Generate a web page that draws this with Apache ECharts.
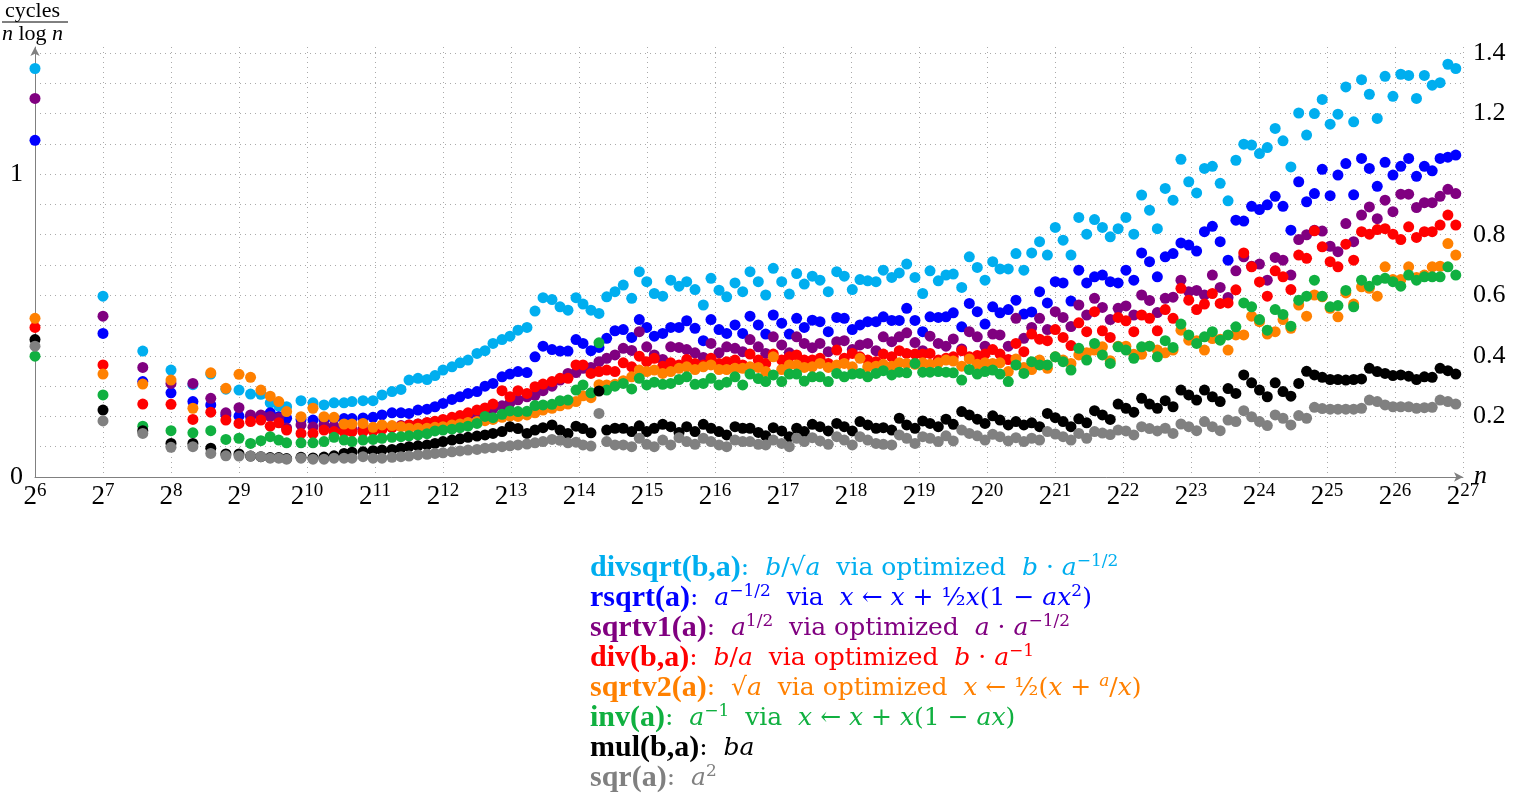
<!DOCTYPE html>
<html>
<head>
<meta charset="utf-8">
<script src="https://cdn.jsdelivr.net/npm/echarts@6/dist/echarts.min.js"></script>
<style>
  html, body { margin: 0; padding: 0; background: #fff; }
  #chart { width: 1534px; height: 799px; }
</style>
</head>
<body>
<div id="chart"></div>
<script>
// x positions: log2(n)
var logN = [6, 7, 7.585, 8, 8.322, 8.585, 8.807, 9, 9.17, 9.322, 9.459, 9.585, 9.7,
  9.912, 10.088, 10.25, 10.397, 10.544, 10.662, 10.824, 10.971, 11.103, 11.25, 11.382, 11.5, 11.632, 11.765, 11.882, 12.0, 12.132, 12.25, 12.368, 12.5, 12.618, 12.735, 12.868, 12.985, 13.103, 13.235, 13.353, 13.471, 13.603, 13.721, 13.838, 13.956, 14.059, 14.176, 14.294,
  14.407, 14.529, 14.651, 14.775, 14.887, 14.996, 15.107, 15.231, 15.349, 15.471, 15.584, 15.706, 15.828, 15.941, 16.059, 16.172, 16.294, 16.407, 16.515, 16.637, 16.746, 16.857, 16.981, 17.093, 17.201, 17.313, 17.431, 17.544, 17.666, 17.79, 17.901, 18.019, 18.132, 18.246, 18.368, 18.475, 18.599, 18.71, 18.819, 18.941, 19.054, 19.162, 19.284, 19.397, 19.504, 19.628, 19.74, 19.857, 19.971, 20.084, 20.191, 20.313, 20.426,
  20.542, 20.657, 20.773, 20.888, 21.004, 21.119, 21.235, 21.35, 21.466, 21.581, 21.697, 21.812, 21.928, 22.043, 22.159, 22.274, 22.39, 22.505, 22.621, 22.736, 22.852, 22.967, 23.083, 23.198, 23.314, 23.429, 23.545, 23.66, 23.776, 23.891, 24.007, 24.122, 24.238, 24.353, 24.469, 24.584,
  24.7, 24.815, 24.93, 25.046, 25.161, 25.277, 25.392, 25.508, 25.623, 25.739, 25.854, 25.97, 26.085, 26.201, 26.316, 26.432, 26.547, 26.663, 26.778, 26.894];

var divsqrtVals = [1.349, 0.597, 0.416, 0.353, 0.305, 0.340, 0.290, 0.287, 0.274, 0.273, 0.245, 0.234, 0.232,
  0.252, 0.245, 0.238, 0.245, 0.245, 0.249, 0.252, 0.252, 0.271, 0.282, 0.289, 0.320, 0.326, 0.322, 0.335, 0.353, 0.364, 0.377, 0.386, 0.408, 0.417, 0.441, 0.454, 0.465, 0.485, 0.494, 0.548, 0.592, 0.586, 0.562, 0.551, 0.592, 0.571, 0.551, 0.540,
  0.595, 0.612, 0.634, 0.590, 0.678, 0.645, 0.606, 0.597, 0.650, 0.630, 0.645, 0.619, 0.568, 0.656, 0.617, 0.595,
  0.641, 0.612, 0.678, 0.645, 0.601, 0.689, 0.645, 0.604, 0.672, 0.637, 0.663, 0.650, 0.612, 0.678, 0.663, 0.619, 0.652, 0.648,
  0.645, 0.683, 0.659, 0.674, 0.703, 0.659, 0.606, 0.681, 0.648, 0.667, 0.670, 0.626, 0.727, 0.692, 0.650, 0.711, 0.687, 0.687, 0.738,
  0.683, 0.740, 0.777, 0.733, 0.824, 0.782, 0.733, 0.857, 0.802, 0.850, 0.824, 0.793, 0.820, 0.857, 0.802, 0.931, 0.881, 0.820, 0.953,
  0.914, 1.049, 0.975, 0.938, 1.019, 1.026, 0.970, 0.912, 1.046, 1.099, 1.096, 1.068, 1.088, 1.151, 1.110, 1.024, 1.202, 1.129,
  1.200, 1.247, 1.165, 1.198, 1.288, 1.173, 1.312, 1.264, 1.184, 1.323, 1.257, 1.330, 1.326, 1.250, 1.326, 1.294, 1.302, 1.363, 1.349];

var rsqrtVals = [1.112, 0.474, 0.315, 0.278, 0.249, 0.238, 0.205, 0.201, 0.199, 0.199, 0.212, 0.199, 0.194,
  0.190, 0.188, 0.190, 0.193, 0.193, 0.193, 0.195, 0.197, 0.205, 0.212, 0.212, 0.210, 0.221, 0.224, 0.232, 0.243, 0.256, 0.265, 0.276, 0.282, 0.300, 0.309, 0.331, 0.340, 0.348, 0.345, 0.397, 0.432, 0.421, 0.416, 0.416, 0.454, 0.441, 0.417, 0.428,
  0.458, 0.483, 0.487, 0.461, 0.520, 0.494, 0.465, 0.474, 0.494, 0.494, 0.516, 0.491, 0.450, 0.520, 0.487, 0.474,
  0.502, 0.474, 0.531, 0.502, 0.472, 0.535, 0.508, 0.472, 0.524, 0.494, 0.518, 0.513, 0.480, 0.527, 0.524, 0.487, 0.502, 0.513,
  0.513, 0.529, 0.517, 0.517, 0.557, 0.517, 0.480, 0.529, 0.527, 0.529, 0.542, 0.496, 0.573, 0.546, 0.505, 0.562, 0.542, 0.553, 0.584,
  0.538, 0.545, 0.612, 0.575, 0.645, 0.641, 0.581, 0.683, 0.641, 0.661, 0.667, 0.645, 0.641, 0.683, 0.650, 0.740, 0.711, 0.661, 0.727,
  0.738, 0.773, 0.766, 0.746, 0.810, 0.828, 0.777, 0.716, 0.848, 0.845, 0.894, 0.883, 0.899, 0.927, 0.894, 0.815, 0.975, 0.909,
  0.936, 1.016, 0.929, 0.997, 1.035, 0.932, 1.052, 1.019, 0.960, 1.039, 0.997, 1.026, 1.052, 0.993, 1.026, 1.011, 1.052, 1.056, 1.063];

var sqrtv1Vals = [1.250, 0.531, 0.362, 0.309, 0.309, 0.260, 0.212, 0.229, 0.205, 0.205, 0.200, 0.195, 0.162,
  0.172, 0.165, 0.172, 0.168, 0.160, 0.158, 0.158, 0.160, 0.163, 0.166, 0.170, 0.172, 0.175, 0.178, 0.182, 0.187, 0.192, 0.197, 0.203, 0.210, 0.218, 0.226, 0.235, 0.245, 0.255, 0.265, 0.270, 0.285, 0.300, 0.320, 0.342, 0.345, 0.359, 0.362, 0.381,
  0.392, 0.403, 0.425, 0.418, 0.480, 0.430, 0.403, 0.388, 0.430, 0.428, 0.421, 0.410, 0.395, 0.441, 0.410, 0.430,
  0.425, 0.414, 0.454, 0.430, 0.408, 0.463, 0.436, 0.410, 0.463, 0.441, 0.427, 0.441, 0.414, 0.447, 0.450, 0.421, 0.436, 0.441,
  0.417, 0.463, 0.447, 0.463, 0.476, 0.444, 0.417, 0.465, 0.441, 0.432, 0.456, 0.423, 0.480, 0.463, 0.432, 0.472, 0.469, 0.432, 0.524,
  0.458, 0.494, 0.524, 0.487, 0.546, 0.527, 0.497, 0.568, 0.535, 0.590, 0.560, 0.520, 0.557, 0.565, 0.535, 0.601, 0.583, 0.543, 0.590,
  0.594, 0.650, 0.612, 0.616, 0.601, 0.667, 0.626, 0.593, 0.681, 0.727, 0.696, 0.703, 0.650, 0.725, 0.716, 0.667, 0.784, 0.800,
  0.815, 0.812, 0.762, 0.744, 0.837, 0.777, 0.865, 0.892, 0.853, 0.914, 0.876, 0.934, 0.934, 0.890, 0.906, 0.906, 0.927, 0.950, 0.936];

var divVals = [0.494, 0.370, 0.241, 0.240, 0.190, 0.214, 0.188, 0.177, 0.183, 0.188, 0.168, 0.179, 0.155,
  0.144, 0.144, 0.155, 0.150, 0.150, 0.150, 0.150, 0.152, 0.157, 0.163, 0.168, 0.172, 0.175, 0.180, 0.184, 0.190, 0.197, 0.203, 0.212, 0.221, 0.228, 0.241, 0.285, 0.265, 0.285, 0.276, 0.298, 0.307, 0.315, 0.326, 0.326, 0.370, 0.370, 0.342, 0.348,
  0.353, 0.348, 0.377, 0.364, 0.399, 0.381, 0.392, 0.366, 0.377, 0.370, 0.388, 0.375, 0.370, 0.392, 0.375, 0.381,
  0.386, 0.370, 0.406, 0.386, 0.375, 0.406, 0.386, 0.397, 0.403, 0.386, 0.386, 0.392, 0.375, 0.419, 0.392, 0.408, 0.397, 0.386,
  0.381, 0.406, 0.397, 0.417, 0.408, 0.406, 0.406, 0.408, 0.386, 0.392, 0.397, 0.417, 0.397, 0.401, 0.406, 0.421, 0.406, 0.388, 0.441,
  0.414, 0.472, 0.455, 0.450, 0.487, 0.461, 0.434, 0.509, 0.480, 0.546, 0.483, 0.461, 0.527, 0.516, 0.480, 0.535, 0.524, 0.483, 0.553,
  0.524, 0.623, 0.584, 0.553, 0.571, 0.606, 0.573, 0.575, 0.618, 0.740, 0.694, 0.644, 0.597, 0.681, 0.661, 0.619, 0.733, 0.722,
  0.813, 0.760, 0.711, 0.694, 0.769, 0.716, 0.810, 0.802, 0.817, 0.820, 0.802, 0.784, 0.826, 0.791, 0.810, 0.810, 0.832, 0.865, 0.832];

var sqrtv2Vals = [0.524, 0.340, 0.307, 0.320, 0.227, 0.344, 0.293, 0.339, 0.329, 0.287, 0.267, 0.249, 0.216,
  0.199, 0.227, 0.199, 0.197, 0.175, 0.175, 0.177, 0.164, 0.172, 0.170, 0.166, 0.161, 0.161, 0.161, 0.164, 0.166, 0.172, 0.175, 0.180, 0.183, 0.186, 0.190, 0.197, 0.201, 0.200, 0.205, 0.212, 0.221, 0.227, 0.235, 0.241, 0.249, 0.268, 0.262, 0.305,
  0.304, 0.306, 0.318, 0.331, 0.353, 0.348, 0.353, 0.342, 0.348, 0.359, 0.364, 0.355, 0.364, 0.370, 0.355, 0.355,
  0.359, 0.359, 0.364, 0.362, 0.348, 0.397, 0.355, 0.370, 0.370, 0.362, 0.364, 0.375, 0.362, 0.370, 0.375, 0.364, 0.392, 0.364,
  0.366, 0.372, 0.366, 0.377, 0.375, 0.372, 0.377, 0.372, 0.377, 0.386, 0.383, 0.366, 0.390, 0.372, 0.377, 0.375, 0.377, 0.348, 0.390,
  0.362, 0.355, 0.386, 0.359, 0.397, 0.386, 0.375, 0.403, 0.410, 0.419, 0.430, 0.384, 0.432, 0.432, 0.405, 0.405, 0.432, 0.419, 0.410,
  0.419, 0.485, 0.452, 0.450, 0.419, 0.457, 0.455, 0.419, 0.469, 0.469, 0.531, 0.513, 0.472, 0.480, 0.520, 0.491, 0.568, 0.531,
  0.601, 0.595, 0.557, 0.529, 0.608, 0.571, 0.628, 0.623, 0.597, 0.694, 0.652, 0.652, 0.694, 0.659, 0.667, 0.694, 0.696, 0.771, 0.733];

var invVals = [0.399, 0.271, 0.168, 0.153, 0.146, 0.153, 0.124, 0.128, 0.111, 0.120, 0.133, 0.122, 0.113,
  0.113, 0.113, 0.117, 0.131, 0.122, 0.117, 0.122, 0.124, 0.128, 0.131, 0.133, 0.136, 0.139, 0.143, 0.152, 0.155, 0.158, 0.163, 0.168, 0.177, 0.200, 0.196, 0.207, 0.218, 0.216, 0.217, 0.236, 0.238, 0.240, 0.252, 0.254, 0.287, 0.304, 0.278, 0.443,
  0.287, 0.300, 0.309, 0.291, 0.326, 0.304, 0.313, 0.306, 0.309, 0.322, 0.331, 0.306, 0.309, 0.326, 0.304, 0.313,
  0.331, 0.304, 0.340, 0.325, 0.315, 0.337, 0.315, 0.340, 0.340, 0.317, 0.331, 0.331, 0.315, 0.342, 0.331, 0.340, 0.342, 0.331,
  0.342, 0.351, 0.337, 0.346, 0.344, 0.375, 0.346, 0.346, 0.348, 0.346, 0.344, 0.320, 0.355, 0.340, 0.348, 0.353, 0.340, 0.315, 0.370,
  0.342, 0.381, 0.370, 0.370, 0.397, 0.381, 0.353, 0.425, 0.386, 0.441, 0.403, 0.375, 0.430, 0.419, 0.392, 0.430, 0.432, 0.397, 0.450,
  0.428, 0.505, 0.469, 0.441, 0.463, 0.480, 0.452, 0.469, 0.496, 0.575, 0.562, 0.520, 0.485, 0.553, 0.537, 0.498, 0.584, 0.597,
  0.650, 0.597, 0.562, 0.566, 0.616, 0.562, 0.650, 0.630, 0.650, 0.656, 0.645, 0.630, 0.667, 0.650, 0.661, 0.661, 0.661, 0.694, 0.667];

var mulVals = [0.454, 0.221, 0.153, 0.111, 0.111, 0.095, 0.076, 0.076, 0.069, 0.067, 0.064, 0.064, 0.061,
  0.065, 0.063, 0.066, 0.070, 0.078, 0.082, 0.083, 0.087, 0.089, 0.091, 0.095, 0.100, 0.103, 0.106, 0.111, 0.117, 0.122, 0.126, 0.131, 0.135, 0.139, 0.144, 0.150, 0.166, 0.160, 0.144, 0.155, 0.163, 0.172, 0.155, 0.144, 0.168, 0.160, 0.146, 0.284,
  0.155, 0.161, 0.161, 0.150, 0.169, 0.150, 0.161, 0.174, 0.166, 0.147, 0.166, 0.150, 0.174, 0.161, 0.150, 0.139, 0.166, 0.161, 0.161, 0.147, 0.136, 0.163, 0.152, 0.133, 0.161, 0.150, 0.174, 0.166, 0.152, 0.177, 0.166, 0.152, 0.183, 0.172, 0.161, 0.163, 0.155, 0.194, 0.172, 0.161, 0.185, 0.177, 0.166, 0.191, 0.174, 0.216, 0.205, 0.191, 0.177, 0.202, 0.188, 0.172, 0.183,
  0.172, 0.179, 0.166, 0.210, 0.196, 0.183, 0.166, 0.192, 0.179, 0.219, 0.205, 0.190, 0.241, 0.227, 0.214, 0.260, 0.241, 0.227, 0.252,
  0.232, 0.287, 0.271, 0.254, 0.287, 0.265, 0.249, 0.292, 0.276, 0.337, 0.311, 0.287, 0.265, 0.311, 0.282, 0.267, 0.309,
  0.349, 0.337, 0.329, 0.322, 0.322, 0.320, 0.322, 0.324, 0.359, 0.348, 0.342, 0.335, 0.337, 0.333, 0.322, 0.331, 0.329, 0.359, 0.351, 0.340];

var sqrVals = [0.432, 0.185, 0.144, 0.098, 0.100, 0.078, 0.070, 0.069, 0.069, 0.067, 0.062, 0.062, 0.059,
  0.062, 0.059, 0.059, 0.062, 0.062, 0.062, 0.067, 0.062, 0.062, 0.065, 0.067, 0.069, 0.073, 0.075, 0.078, 0.080, 0.083, 0.086, 0.089, 0.091, 0.095, 0.097, 0.100, 0.103, 0.106, 0.109, 0.113, 0.117, 0.124, 0.121, 0.113, 0.115, 0.106, 0.102, 0.210,
  0.117, 0.106, 0.106, 0.100, 0.128, 0.108, 0.100, 0.122, 0.106, 0.130, 0.117, 0.108, 0.128, 0.117, 0.106, 0.100, 0.122, 0.117, 0.117, 0.108, 0.106, 0.122, 0.111, 0.100, 0.128, 0.117, 0.130, 0.119, 0.108, 0.133, 0.122, 0.106, 0.133, 0.122, 0.111, 0.108, 0.106, 0.139, 0.128, 0.111, 0.133, 0.128, 0.117, 0.136, 0.119, 0.155, 0.144, 0.136, 0.122, 0.141, 0.133, 0.119, 0.130,
  0.117, 0.128, 0.122, 0.150, 0.142, 0.133, 0.122, 0.144, 0.128, 0.150, 0.145, 0.140, 0.155, 0.152, 0.139, 0.166, 0.160, 0.152, 0.161,
  0.144, 0.175, 0.166, 0.153, 0.183, 0.166, 0.153, 0.188, 0.183, 0.219, 0.199, 0.183, 0.170, 0.205, 0.194, 0.172, 0.203,
  0.194, 0.230, 0.226, 0.224, 0.224, 0.224, 0.224, 0.227, 0.254, 0.249, 0.238, 0.232, 0.232, 0.232, 0.227, 0.229, 0.230, 0.254, 0.249, 0.241];

var seriesNames = ['divsqrt', 'rsqrt', 'sqrtv1', 'div', 'sqrtv2', 'inv', 'mul', 'sqr'];
var seriesColors = ['#00aeef', '#0000ff', '#800080', '#ff0000', '#ff8000', '#10b040', '#000000', '#808080'];
var seriesVals = [divsqrtVals, rsqrtVals, sqrtv1Vals, divVals, sqrtv2Vals, invVals, mulVals, sqrVals];

var SERIF = 'Liberation Serif';
var BODY = 'DejaVu Serif';

function mkSeries(i) {
  return {
    name: seriesNames[i],
    type: 'scatter',
    symbol: 'circle',
    symbolSize: 11,
    itemStyle: { color: seriesColors[i], opacity: 1 },
    data: logN.map(function (x, k) { return [x, seriesVals[i][k]]; }),
    animation: false
  };
}

// legend lines, built as rich text
function legendRich(c) {
  return {
    n: { fontFamily: SERIF, fontSize: 30, fontWeight: 'bold', fill: c, lineHeight: 30 },
    t: { fontFamily: BODY, fontSize: 25, fill: c, lineHeight: 30 },
    i: { fontFamily: BODY, fontSize: 25, fontStyle: 'italic', fill: c, lineHeight: 30 },
    s: { fontFamily: BODY, fontSize: 17, fill: c, verticalAlign: 'top' },
    si: { fontFamily: BODY, fontSize: 17, fontStyle: 'italic', fill: c, verticalAlign: 'top' }
  };
}
var legendLines = [
  '{n|divsqrt(b,a)}{t|:  }{i|b}{t|/√}{i|a}{t|  via optimized  }{i|b}{t| · }{i|a}{s|−1/2}',
  '{n|rsqrt(a)}{t|:  }{i|a}{s|−1/2}{t|  via  }{i|x}{t| ← }{i|x}{t| + ½}{i|x}{t|(1 − }{i|ax}{s|2}{t|)}',
  '{n|sqrtv1(a)}{t|:  }{i|a}{s|1/2}{t|  via optimized  }{i|a}{t| · }{i|a}{s|−1/2}',
  '{n|div(b,a)}{t|:  }{i|b}{t|/}{i|a}{t|  via optimized  }{i|b}{t| · }{i|a}{s|−1}',
  '{n|sqrtv2(a)}{t|:  √}{i|a}{t|  via optimized  }{i|x}{t| ← ½(}{i|x}{t| + }{si|a}{t|/}{i|x}{t|)}',
  '{n|inv(a)}{t|:  }{i|a}{s|−1}{t|  via  }{i|x}{t| ← }{i|x}{t| + }{i|x}{t|(1 − }{i|ax}{t|)}',
  '{n|mul(b,a)}{t|:  }{i|ba}',
  '{n|sqr(a)}{t|:  }{i|a}{s|2}'
];

var graphics = legendLines.map(function (txt, k) {
  return {
    type: 'text',
    left: 590,
    top: 553 + k * 30,
    style: { text: txt, rich: legendRich(seriesColors[k]), fill: seriesColors[k] }
  };
});
// y axis title: cycles / (n log n)
graphics.push({
  type: 'text', left: 5, top: 0,
  style: { text: 'cycles', fontFamily: SERIF, fontSize: 22, fill: '#000' }
});
graphics.push({
  type: 'line', shape: { x1: 2, y1: 22, x2: 68, y2: 22 },
  style: { stroke: '#000', lineWidth: 1 }
});
graphics.push({
  type: 'text', left: 2, top: 23,
  style: {
    text: '{i|n}{t| log }{i|n}',
    rich: {
      i: { fontFamily: SERIF, fontSize: 22, fontStyle: 'italic', fill: '#000' },
      t: { fontFamily: SERIF, fontSize: 22, fill: '#000' }
    }
  }
});
// x axis name
graphics.push({
  type: 'text', left: 1474, top: 463,
  style: { text: 'n', fontFamily: SERIF, fontSize: 26, fontStyle: 'italic', fill: '#000' }
});

var chart = echarts.init(document.getElementById('chart'), null, { renderer: 'canvas' });
chart.setOption({
  animation: false,
  backgroundColor: '#fff',
  grid: { left: 35, right: 71, top: 47, bottom: 322, containLabel: false },
  xAxis: {
    type: 'value', min: 6, max: 27, interval: 1,
    axisLine: { show: true, lineStyle: { color: '#808080', width: 1 }, symbol: ['none', 'arrow'], symbolSize: [7, 9] },
    axisTick: { show: false },
    axisLabel: {
      margin: 5,
      formatter: function (v) { return '{b|2}{s|' + v + '}'; },
      rich: {
        b: { fontFamily: SERIF, fontSize: 27, color: '#000', lineHeight: 29 },
        s: { fontFamily: SERIF, fontSize: 19, color: '#000', verticalAlign: 'top' }
      }
    },
    splitLine: { show: true, showMinLine: false, lineStyle: { color: '#aaaaaa', type: [1, 4], width: 1 } }
  },
  yAxis: [{
    type: 'value', position: 'left', min: 0, max: 1.42, interval: 0.1,
    axisLine: { show: true, lineStyle: { color: '#808080', width: 1 }, symbol: ['none', 'arrow'], symbolSize: [7, 9] },
    axisTick: { show: false },
    axisLabel: {
      margin: 12, fontFamily: SERIF, fontSize: 26, color: '#000',
      formatter: function (v) {
        if (Math.abs(v) < 1e-6) return '0';
        if (Math.abs(v - 1) < 1e-6) return '1';
        return '';
      }
    },
    splitLine: { show: true, showMaxLine: false, lineStyle: { color: '#aaaaaa', type: [1, 4], width: 1 } }
  }, {
    type: 'value', position: 'right', min: 0, max: 1.42, interval: 0.2,
    axisLine: { show: false }, axisTick: { show: false }, splitLine: { show: false },
    axisLabel: {
      margin: 10, fontFamily: SERIF, fontSize: 26, color: '#000',
      formatter: function (v) {
        if (v < 0.1 || Math.abs(v - 1) < 1e-6 || v > 1.41) return '';
        return v.toFixed(1);
      }
    }
  }],
  series: [0, 1, 2, 3, 4, 5, 6, 7].map(mkSeries),
  graphic: graphics
});
</script>
</body>
</html>
